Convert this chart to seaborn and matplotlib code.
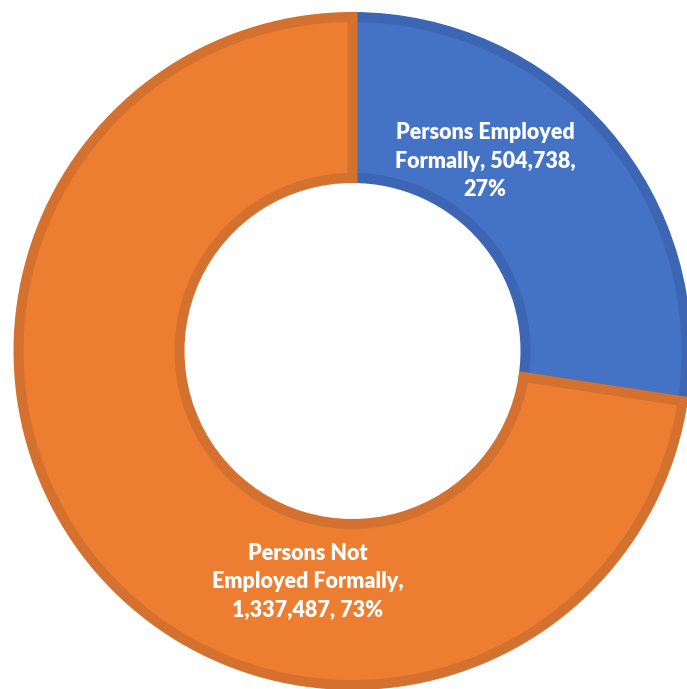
import matplotlib
matplotlib.use("Agg")
import matplotlib.pyplot as plt
import seaborn as sns

categories = ["Persons Employed Formally", "Persons Not Employed Formally"]
values = [504738, 1337487]
label_texts = ["Persons Employed\nFormally, 504,738,\n27%",
               "Persons Not\nEmployed Formally,\n1,337,487, 73%"]
fill_colors = ["#4472C4", "#ED7D31"]
edge_colors = ["#3C66B3", "#D4712F"]

sns.set_theme(style="white")
plt.rcParams['font.family'] = ['Lato', 'DejaVu Sans']

W, H = 687, 689
fig = plt.figure(figsize=(W / 100, H / 100), dpi=100)
ax = fig.add_axes([0, 0, 1, 1])
ax.set_xlim(0, W)
ax.set_ylim(0, H)
ax.set_aspect('equal')
ax.axis('off')

cx, cy = 352.5, H - 351
lw_px = 10
r_out = 339 - lw_px / 2
r_in = 168 + lw_px / 2

wedges, _ = ax.pie(values, colors=fill_colors, startangle=90, counterclock=False,
                   radius=r_out, center=(cx, cy), frame=True,
                   wedgeprops=dict(width=r_out - r_in, linewidth=lw_px * 0.72))
for w, ec in zip(wedges, edge_colors):
    w.set_edgecolor(ec)
    w.set_joinstyle('miter')
ax.set_xlim(0, W)
ax.set_ylim(0, H)
ax.axis('off')

label_pos = [(485, H - 161), (308, H - 582)]
for (x, y), t in zip(label_pos, label_texts):
    ax.text(x, y, t, ha='center', va='center', color='white', fontsize=15.5,
            fontweight='heavy', linespacing=1.42)

fig.savefig("out.png", dpi=100, facecolor='white')
